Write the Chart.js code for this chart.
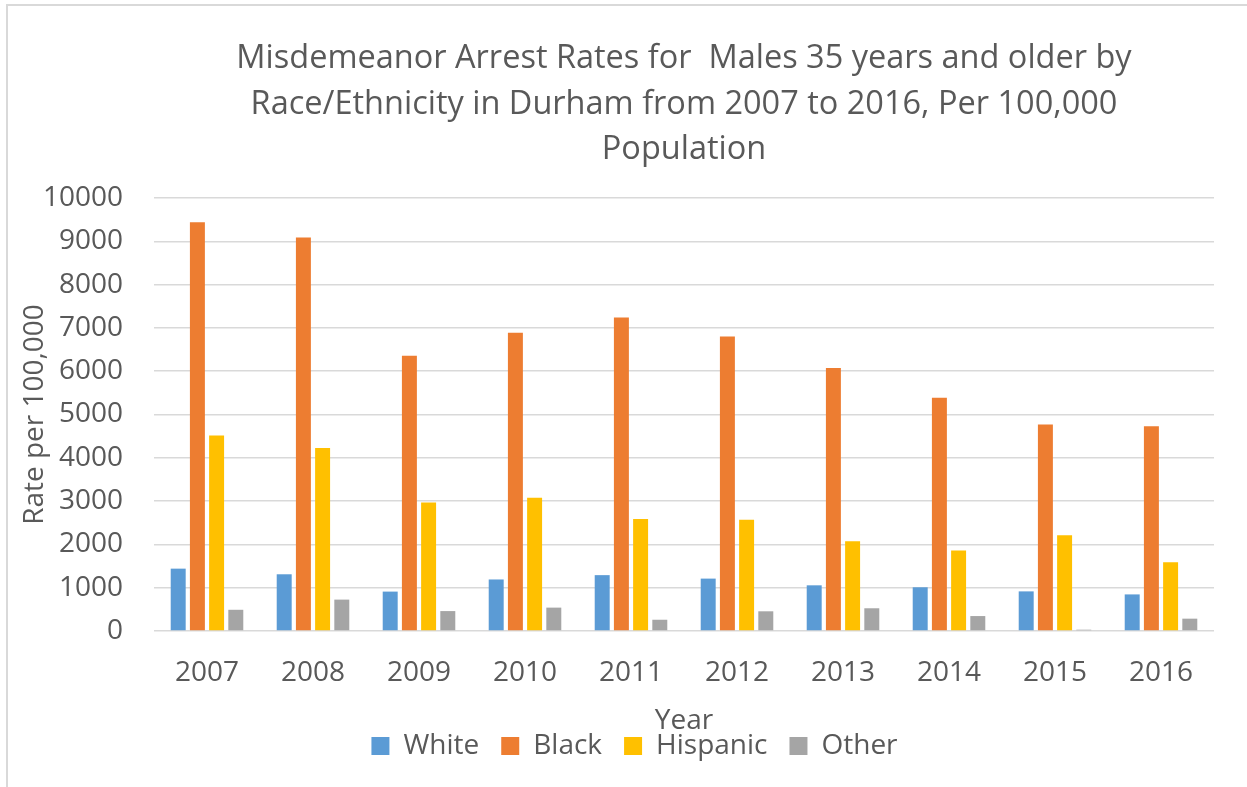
<!DOCTYPE html>
<html>
<head>
<meta charset="utf-8">
<script src="https://cdn.jsdelivr.net/npm/chart.js@4"></script>
<style>
  body { margin: 0; background: #fff; }
  .frame { position: absolute; left: 6px; top: 4px; width: 1260px; height: 800px; border: 2px solid #d9d9d9; }
  .wrap { position: absolute; left: 0; top: 0; width: 1247px; height: 787px; }
</style>
</head>
<body>
<div class="frame"></div>
<div class="wrap"><canvas id="arrestChart" width="1247" height="787"></canvas></div>
<script>
// arrest rates per 100,000, males 35+, Durham
const years = ['2007', '2008', '2009', '2010', '2011', '2012', '2013', '2014', '2015', '2016'];
const white = [1440, 1310, 910, 1190, 1290, 1210, 1055, 1010, 915, 845];
const black = [9440, 9085, 6355, 6890, 7240, 6800, 6075, 5385, 4770, 4730];
const hispanic = [4515, 4225, 2970, 3075, 2585, 2570, 2070, 1860, 2210, 1590];
const other = [490, 725, 460, 540, 260, 455, 525, 345, 30, 285];

const textColor = '#595959';
const gridColor = '#d9d9d9';
const fontName = "'Open Sans', 'Noto Sans', sans-serif";

const ctx = document.getElementById('arrestChart');

new Chart(ctx, {
    type: 'bar',
    data: {
        labels: years,
        datasets: [
            { label: 'White', data: white, backgroundColor: '#5B9BD5' },
            { label: 'Black', data: black, backgroundColor: '#ED7D31' },
            { label: 'Hispanic', data: hispanic, backgroundColor: '#FFC000' },
            { label: 'Other', data: other, backgroundColor: '#A5A5A5' }
        ]
    },
    options: {
        responsive: false,
        animation: false,
        categoryPercentage: 0.7245,
        barPercentage: 0.78,
        layout: {
            padding: { left: 22, right: 0, top: 8, bottom: 17 }
        },
        plugins: {
            title: {
                display: true,
                fullSize: false,
                text: [
                    'Misdemeanor Arrest Rates for  Males 35 years and older by',
                    'Race/Ethnicity in Durham from 2007 to 2016, Per 100,000',
                    'Population'
                ],
                color: textColor,
                font: { family: fontName, size: 32.5, weight: 'normal', lineHeight: 1.4 },
                padding: { top: 28, bottom: 25.5 }
            },
            legend: {
                position: 'bottom',
                labels: {
                    color: textColor,
                    font: { family: fontName, size: 28 },
                    boxWidth: 18,
                    boxHeight: 18,
                    padding: 22
                }
            },
            tooltip: { enabled: false }
        },
        scales: {
            x: {
                grid: { display: false, drawTicks: false },
                border: { display: false },
                ticks: {
                    color: textColor,
                    font: { family: fontName, size: 28 },
                    padding: 25
                },
                title: {
                    display: true,
                    text: 'Year',
                    color: textColor,
                    font: { family: fontName, size: 28 },
                    padding: { top: -10.4, bottom: -27.8 }
                }
            },
            y: {
                min: 0,
                max: 10000,
                grid: { color: gridColor, lineWidth: 1.5, drawTicks: false },
                border: { display: false },
                ticks: {
                    stepSize: 1000,
                    color: textColor,
                    font: { family: fontName, size: 28 },
                    padding: 31,
                    callback: function(value) { return String(value); }
                },
                title: {
                    display: true,
                    text: 'Rate per 100,000',
                    color: textColor,
                    font: { family: fontName, size: 28 },
                    padding: { top: -4, bottom: 0 }
                },
                afterFit: function(scale) { scale.width = 132; }
            },
            // empty right axis, only keeps the plot edge where the original has it
            yRight: {
                position: 'right',
                grid: { display: false },
                border: { display: false },
                ticks: { display: false },
                afterFit: function(scale) { scale.width = 33; }
            }
        }
    }
});
</script>
</body>
</html>
